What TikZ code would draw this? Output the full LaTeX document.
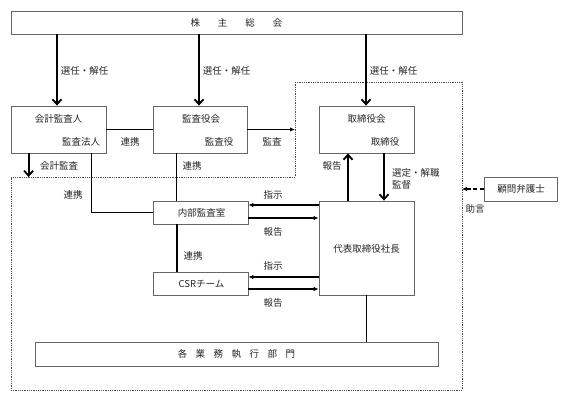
\documentclass[tikz,border=0pt]{standalone}
\usepackage{fontspec}
\setmainfont{Noto Sans CJK JP}
\usetikzlibrary{arrows.meta}

\tikzset{
	box/.style={draw=black!60, line width=0.8pt, inner sep=0pt, fill=white},
	lbl/.style={font=\fontsize{9.5}{11}\selectfont, text=black!85, inner sep=0pt},
	bigarrow/.style={line width=1.8pt, -{Straight Barb[length=5pt,width=9pt,line width=1.8pt]}},
	smallarrow/.style={line width=1.8pt, -{Latex[length=5pt,width=4.5pt]}},
	link/.style={line width=1.8pt},
	border/.style={draw=black!70, line width=0.7pt, dash pattern=on 0.8pt off 1pt},
}

\begin{document}
\begin{tikzpicture}[x=1pt, y=-1pt]
		\useasboundingbox (0,0) rectangle (568,402);

		% boxes
		\node (kabu)[box, minimum width=451pt, minimum height=23pt] at (236.5,22.5) {};
		\node (kaikei)[box, minimum width=95pt, minimum height=47pt] at (58.5,129.5) {};
		\node (kansa)[box, minimum width=94pt, minimum height=47pt] at (200,129.5) {};
		\node (torishimari)[box, minimum width=95pt, minimum height=47pt] at (366.5,129.5) {};
		\node (naibu)[box, minimum width=95pt, minimum height=23pt] at (200.5,212.5) {};
		\node (csr)[box, minimum width=95pt, minimum height=23pt] at (200.5,283.5) {};
		\node (daihyo)[box, minimum width=95pt, minimum height=94pt] at (366.5,248) {};
		\node (komon)[box, minimum width=73pt, minimum height=24pt] at (520.5,189) {};
		\node (gyomu)[box, minimum width=403pt, minimum height=24pt] at (236.5,354) {};

		% texts in boxes
		\node (kabuT)[lbl] at (kabu) {株\hspace{18pt}主\hspace{18pt}総\hspace{18pt}会};
		\node (kaikeiT)[lbl] at (58.5,119) {会計監査人};
		\node (kaikeiB)[lbl] at (81,142) {監査法人};
		\node (kansaT)[lbl] at (201,119) {監査役会};
		\node (kansaB)[lbl] at (219,142) {監査役};
		\node (toriT)[lbl] at (366.5,119) {取締役会};
		\node (toriB)[lbl] at (385,142) {取締役};
		\node (naibuT)[lbl] at (201.5,213) {内部監査室};
		\node (csrT)[lbl] at (201.5,284) {CSRチーム};
		\node (daihyoT)[lbl] at (366.5,249) {代表取締役社長};
		\node (komonT)[lbl] at (521,189) {顧問弁護士};
		\node (gyomuT)[lbl] at (gyomu) {各\hspace{8.5pt}業\hspace{8.5pt}務\hspace{8.5pt}執\hspace{8.5pt}行\hspace{8.5pt}部\hspace{8.5pt}門};

		% dotted border
		\coordinate (b1) at (295,82);
		\coordinate (b2) at (462,82);
		\coordinate (b3) at (462,390);
		\coordinate (b4) at (11,390);
		\coordinate (b5) at (11,177);
		\coordinate (b6) at (295,177);
		\draw [border](b1)--(b2)--(b3)--(b4)--(b5)--(b6)--cycle;

		% election
		\draw [bigarrow]([xshift=-1.5pt]kaikei.north |- kabu.south)--([xshift=-1.5pt]kaikei.north) node [lbl, midway, anchor=west, xshift=3pt, yshift=-1pt]{選任・解任};
		\draw [bigarrow]([xshift=-1pt]kansa.north |- kabu.south)--([xshift=-1pt]kansa.north) node [lbl, midway, anchor=west, xshift=3pt, yshift=-1pt]{選任・解任};
		\draw [bigarrow]([xshift=-0.5pt]torishimari.north |- kabu.south)--([xshift=-0.5pt]torishimari.north) node [lbl, midway, anchor=west, xshift=3pt, yshift=-1pt]{選任・解任};

		% audit links
		\draw [link](kaikei.east)--(kansa.west);
		\node (renkei1)[lbl] at (130,142) {連携};
		\coordinate (kansaEnd) at (b1 |- kansa.east);
		\draw [smallarrow](kansa.east)--(kansaEnd);
		\node (kansaL)[lbl] at (272,142) {監査};
		\coordinate (kaikeiEnd) at ([xshift=18pt]kaikei.south west |- b5);
		\draw [bigarrow]([xshift=18pt]kaikei.south west)--(kaikeiEnd);
		\node (kaikeiL)[lbl] at (59,166) {会計監査};
		\draw [link]([xshift=-15pt]kaikei.south east) |- (naibu.west);
		\node (renkei2)[lbl] at (73,195) {連携};
		\draw [link]([xshift=-23.5pt]kansa.south)--([xshift=-23.5pt]kansa.south |- naibu.north);
		\node (renkei3)[lbl] at (192,166) {連携};
		\draw [link]([xshift=-23.5pt]naibu.south)--([xshift=-23.5pt]csr.north);
		\node (renkei4)[lbl] at (193,256) {連携};

		% instructions and reports
		\draw [smallarrow]([yshift=7.5pt]naibu.east -| daihyo.west)--([yshift=7.5pt]naibu.east);
		\node (shiji1)[lbl] at (273,195) {指示};
		\draw [smallarrow]([yshift=-5.5pt]naibu.east)--([yshift=-5.5pt]naibu.east -| daihyo.west);
		\node (hokoku1)[lbl] at (273,232) {報告};
		\draw [smallarrow]([yshift=6.5pt]csr.east -| daihyo.west)--([yshift=6.5pt]csr.east);
		\node (shiji2)[lbl] at (273,266) {指示};
		\draw [smallarrow]([yshift=-5.5pt]csr.east)--([yshift=-5.5pt]csr.east -| daihyo.west);
		\node (hokoku2)[lbl] at (273,303) {報告};

		% board and president
		\draw [bigarrow]([xshift=-18.5pt]daihyo.north)--([xshift=-18.5pt]torishimari.south);
		\node (hokoku3)[lbl] at (332,166) {報告};
		\draw [bigarrow]([xshift=17.5pt]torishimari.south)--([xshift=17.5pt]daihyo.north);
		\node (sentei)[lbl, anchor=west] at (392,173) {選定・解職};
		\node (kantoku)[lbl, anchor=west] at (392,185) {監督};
		\draw [link](daihyo.south)--(daihyo.south |- gyomu.north);

		% lawyer
		\coordinate (komonEnd) at (b2 |- komon.west);
		\draw [line width=1.8pt, dash pattern=on 4pt off 2.5pt, -{Latex[length=5pt,width=4.5pt]}](komon.west)--(komonEnd);
		\node (jogen)[lbl] at (475,209) {助言};
	\end{tikzpicture}
\end{document}
